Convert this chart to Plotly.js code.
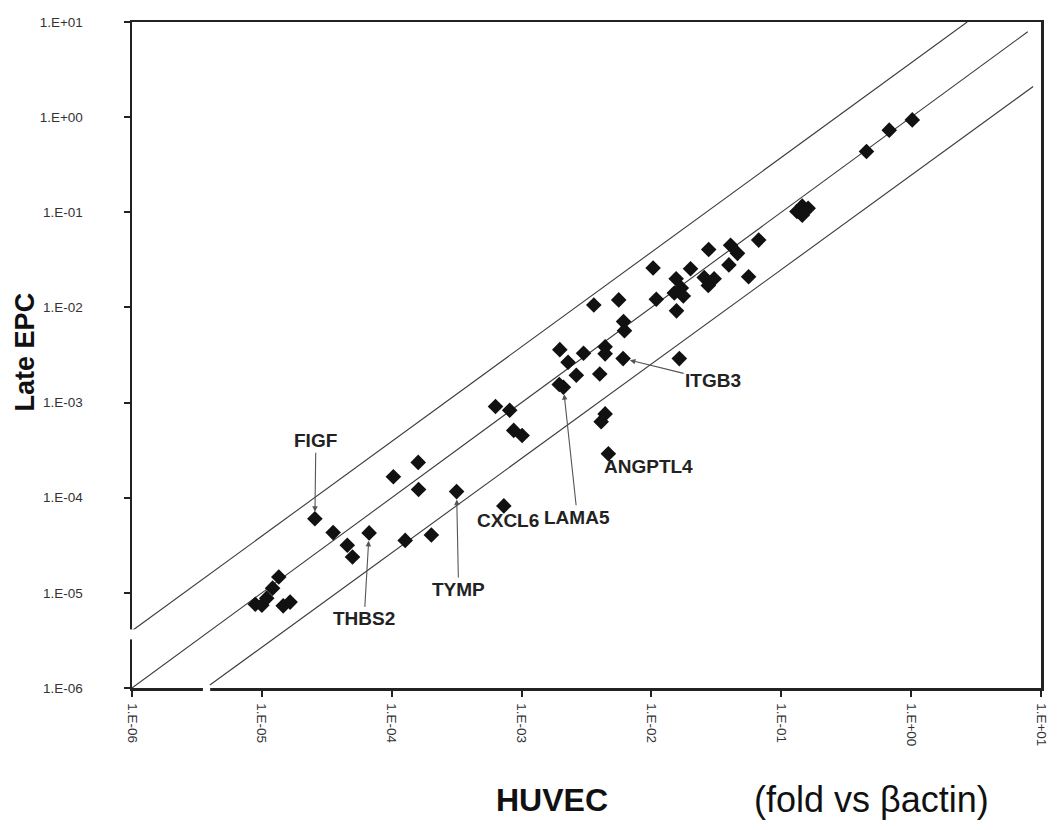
<!DOCTYPE html>
<html>
<head>
<meta charset="utf-8">
<script src="https://cdn.plot.ly/plotly-3.0.1.min.js"></script>
<style>
html,body{margin:0;padding:0;background:#fff;}
#chart{width:1058px;height:830px;}
</style>
</head>
<body>
<div id="chart"></div>
<script>
// HUVEC expression (fold vs beta-actin), x values
const huvec = [
  8.9e-6, 1.0e-5, 1.09e-5, 1.21e-5, 1.35e-5, 1.46e-5, 1.65e-5,
  2.56e-5, 3.54e-5, 4.55e-5, 4.99e-5, 6.7e-5, 1.27e-4, 2.02e-4,
  1.03e-4, 1.6e-4, 1.61e-4, 3.16e-4, 7.3e-4,
  6.3e-4, 8.1e-4, 8.7e-4, 1.01e-3,
  1.97e-3, 2.28e-3, 2.64e-3, 2.1e-3, 1.95e-3, 3.0e-3, 4.0e-3, 4.4e-3, 4.4e-3, 6.05e-3,
  4.4e-3, 4.1e-3, 4.66e-3, 6.1e-3, 6.2e-3, 3.6e-3, 5.6e-3,
  1.03e-2, 1.09e-2, 1.55e-2, 1.7e-2, 1.76e-2, 1.5e-2, 1.56e-2, 1.64e-2,
  2.0e-2, 2.55e-2, 3.04e-2, 2.74e-2, 2.76e-2, 4.07e-2, 4.6e-2, 3.95e-2, 5.6e-2, 6.7e-2,
  0.132, 0.145, 0.161, 0.145, 0.453, 0.678, 1.02
];
// Late EPC expression (fold vs beta-actin), y values
const lateEPC = [
  7.6e-6, 7.4e-6, 8.8e-6, 1.12e-5, 1.47e-5, 7.3e-6, 8.0e-6,
  6.0e-5, 4.3e-5, 3.17e-5, 2.38e-5, 4.27e-5, 3.56e-5, 4.06e-5,
  1.66e-4, 2.35e-4, 1.22e-4, 1.16e-4, 8.2e-5,
  9.1e-4, 8.3e-4, 5.1e-4, 4.5e-4,
  3.6e-3, 2.65e-3, 1.94e-3, 1.45e-3, 1.55e-3, 3.3e-3, 2.0e-3, 3.85e-3, 3.25e-3, 2.9e-3,
  7.6e-4, 6.3e-4, 2.9e-4, 7.1e-3, 5.7e-3, 1.06e-2, 1.2e-2,
  2.6e-2, 1.22e-2, 2.0e-2, 1.6e-2, 1.32e-2, 1.42e-2, 9.2e-3, 2.9e-3,
  2.55e-2, 2.06e-2, 2.0e-2, 1.7e-2, 4.06e-2, 4.5e-2, 3.7e-2, 2.8e-2, 2.1e-2, 5.1e-2,
  0.102, 0.116, 0.110, 0.093, 0.435, 0.73, 0.935
];

// Reference lines (identity and fold-change bounds)
const upperLineX = [1e-6, 2.7];
const upperLineY = [4e-6, 10];
const identityLineX = [1e-6, 7.9];
const identityLineY = [1e-6, 7.9];
const lowerLineX = [3.7e-6, 8.7];
const lowerLineY = [1e-6, 2.1];

// Tick labels
const tickValues = [1e-6, 1e-5, 1e-4, 1e-3, 1e-2, 1e-1, 1, 10];
const tickLabels = ['1.E-06', '1.E-05', '1.E-04', '1.E-03', '1.E-02', '1.E-01', '1.E+00', '1.E+01'];

// Labelled genes and the index of their point
const geneNames = ['FIGF', 'THBS2', 'TYMP', 'CXCL6', 'LAMA5', 'ANGPTL4', 'ITGB3'];
const geneIndex = [7, 11, 17, 18, 26, 35, 32];

// label placement (pixels)
const labelStyle = {
  FIGF:    {arrow: true,  ax: 1,  ay: -78, standoff: 7},
  THBS2:   {arrow: true,  ax: -5, ay: 86,  standoff: 8},
  TYMP:    {arrow: true,  ax: 2,  ay: 98,  standoff: 8},
  CXCL6:   {arrow: false, dx: 4,  dy: -15},
  LAMA5:   {arrow: true,  ax: 14, ay: 130, standoff: 7},
  ANGPTL4: {arrow: false, dx: 40, dy: -13},
  ITGB3:   {arrow: true,  ax: 90, ay: 22,  standoff: 7}
};

const FONT = 'Liberation Sans, Arial, Helvetica, sans-serif';

const lineStyle = {color: '#3a3a3a', width: 1.1};
const traces = [
  {x: upperLineX, y: upperLineY, mode: 'lines', line: lineStyle, hoverinfo: 'skip', showlegend: false},
  {x: identityLineX, y: identityLineY, mode: 'lines', line: lineStyle, hoverinfo: 'skip', showlegend: false},
  {x: lowerLineX, y: lowerLineY, mode: 'lines', line: lineStyle, hoverinfo: 'skip', showlegend: false},
  {
    x: huvec, y: lateEPC, mode: 'markers', type: 'scatter', showlegend: false,
    marker: {symbol: 'diamond', size: 12, color: '#111111', line: {width: 0}},
    cliponaxis: false
  }
];

const annotations = [];
geneNames.forEach((name, k) => {
  const i = geneIndex[k];
  const s = labelStyle[name];
  const a = {
    x: Math.log10(huvec[i]), y: Math.log10(lateEPC[i]), xref: 'x', yref: 'y',
    text: name, font: {family: FONT, size: 19, color: '#222', weight: 'bold'}
  };
  if (s.arrow) {
    Object.assign(a, {showarrow: true, ax: s.ax, ay: s.ay, arrowhead: 2, arrowsize: 1,
      arrowwidth: 1.1, arrowcolor: '#555', standoff: s.standoff});
  } else {
    Object.assign(a, {showarrow: false, xshift: s.dx, yshift: s.dy});
  }
  annotations.push(a);
});

annotations.push({
  text: 'Late EPC', textangle: -90, xref: 'paper', yref: 'paper', x: -0.118, y: 0.505,
  showarrow: false, xanchor: 'center', yanchor: 'middle',
  font: {family: FONT, size: 27, color: '#111', weight: 'bold'}
});
annotations.push({
  text: 'HUVEC', xref: 'paper', yref: 'paper', x: 0.462, y: -0.168,
  showarrow: false, xanchor: 'center', yanchor: 'middle',
  font: {family: FONT, size: 32, color: '#111', weight: 'bold'}
});
annotations.push({
  text: '(fold vs βactin)', xref: 'paper', yref: 'paper', x: 0.814, y: -0.168,
  showarrow: false, xanchor: 'center', yanchor: 'middle',
  font: {family: FONT, size: 36, color: '#111'}
});

const axisCommon = {
  type: 'log', range: [-6, 1], tickvals: tickValues, ticktext: tickLabels,
  ticks: 'outside', ticklen: 6, tickwidth: 2, tickcolor: '#222',
  showline: true, linewidth: 2.5, linecolor: '#222', mirror: true,
  showgrid: false, zeroline: false,
  tickfont: {family: FONT, size: 13.5, color: '#333'}
};

const layout = {
  width: 1058, height: 830,
  margin: {l: 132, r: 17, t: 22, b: 142},
  paper_bgcolor: '#ffffff', plot_bgcolor: '#ffffff',
  xaxis: Object.assign({}, axisCommon, {tickangle: 90, ticklabelstandoff: 4}),
  yaxis: Object.assign({}, axisCommon, {ticklabelstandoff: 38}),
  annotations: annotations,
  shapes: [
    // axis breaks
    {type: 'rect', xref: 'paper', yref: 'paper', x0: -0.012, x1: 0.006, y0: 0.073, y1: 0.088,
     fillcolor: '#ffffff', line: {width: 0}, layer: 'above'},
    {type: 'rect', xref: 'paper', yref: 'paper', x0: 0.078, x1: 0.086, y0: -0.012, y1: 0.005,
     fillcolor: '#ffffff', line: {width: 0}, layer: 'above'}
  ],
  showlegend: false
};

Plotly.newPlot('chart', traces, layout, {displayModeBar: false, staticPlot: true});
</script>
</body>
</html>
